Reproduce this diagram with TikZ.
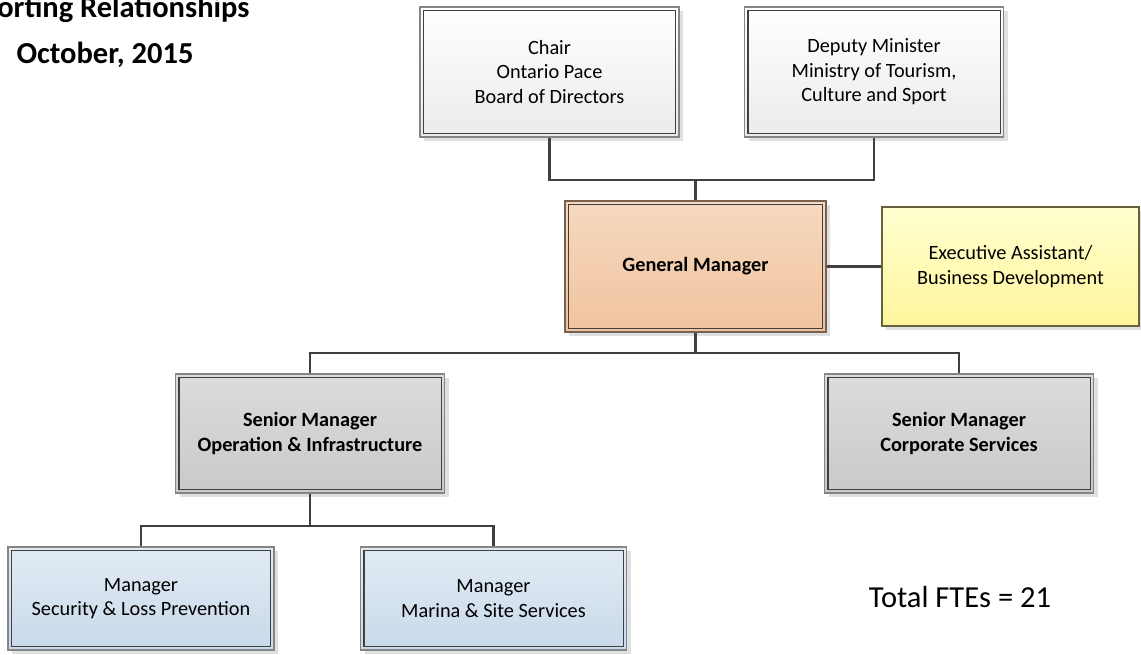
\documentclass[tikz,border=0pt]{standalone}
\usepackage{fontspec}
\setmainfont{Carlito}
\usetikzlibrary{shadows}

\definecolor{linegray}{HTML}{404040}
\definecolor{rimgray}{HTML}{858585}
\definecolor{boardtop}{HTML}{FFFFFF}
\definecolor{boardbot}{HTML}{EBEBEB}
\definecolor{gmtop}{HTML}{F6D9C0}
\definecolor{gmbot}{HTML}{F1C39E}
\definecolor{eatop}{HTML}{FFFFD0}
\definecolor{eabot}{HTML}{FFF59C}
\definecolor{srtop}{HTML}{DCDCDC}
\definecolor{srbot}{HTML}{C9C9C9}
\definecolor{mgtop}{HTML}{E2EBF4}
\definecolor{mgbot}{HTML}{C8D9EA}

\begin{document}
\begin{tikzpicture}[x=1pt,y=-1pt]

\tikzset{unit/.style = {rectangle, draw=rimgray, line width=1.2pt, align=center,
  font=\fontsize{20.3}{24.5}\selectfont,
  drop shadow={shadow xshift=4pt, shadow yshift=-4pt, fill=black!12, opacity=1}}}
\tikzset{boardbox/.style = {unit, top color=boardtop, bottom color=boardbot, minimum width=259pt, minimum height=130pt}}
\tikzset{gmbox/.style = {unit, top color=gmtop, bottom color=gmbot, draw=black!50!gmbot, minimum width=261pt, minimum height=131pt, font=\fontsize{20.3}{24.5}\selectfont\bfseries}}
\tikzset{eabox/.style = {unit, top color=eatop, bottom color=eabot, draw=black!60!eabot, minimum width=257pt, minimum height=119pt}}
\tikzset{seniorbox/.style = {unit, top color=srtop, bottom color=srbot, minimum width=269pt, minimum height=119pt, font=\fontsize{20.3}{24.5}\selectfont\bfseries}}
\tikzset{mgrbox/.style = {unit, top color=mgtop, bottom color=mgbot, minimum width=266pt, minimum height=103pt}}
\tikzset{rim/.style = {draw=linegray, line width=1.2pt}}
\tikzset{link/.style = {draw=linegray, line width=2.8pt}}

\useasboundingbox (0,0) rectangle (1141,654);

% title
\node[anchor=base east, font=\fontsize{30.5}{34}\selectfont\bfseries] (title) at (253,17) {Reporting Relationships};
\node[anchor=base, font=\fontsize{30.5}{34}\selectfont\bfseries] (date) at (105,63) {October, 2015};

% vertices
\node[boardbox] (chair) at (549.5,72) {Chair\\Ontario Pace\\Board of Directors};
\node[boardbox] (deputy) at (874,72) {Deputy Minister\\Ministry of Tourism,\\Culture and Sport};
\node[gmbox] (gm) at (695.5,266.5) {General Manager};
\node[eabox] (ea) at (1010.5,266.5) {Executive Assistant/\\Business Development};
\node[seniorbox] (ops) at (310,433.5) {Senior Manager\\Operation \& Infrastructure};
\node[seniorbox] (corp) at (959,433.5) {Senior Manager\\Corporate Services};
\node[mgrbox] (security) at (141,598.5) {Manager\\Security \& Loss Prevention};
\node[mgrbox] (marina) at (493.5,598.5) {Manager\\Marina \& Site Services};
\node[anchor=base, font=\fontsize{30.5}{34}\selectfont] (fte) at (960,607) {Total FTEs = 21};

% inner rims
\foreach \n in {chair,deputy,gm,ops,corp,security,marina}
  \draw[rim] ([shift={(4,4)}]\n.north west) rectangle ([shift={(-4,-4)}]\n.south east);

%edges
\coordinate (topbus) at (695.5,180);
\coordinate (midbus) at (695.5,353);
\coordinate (lowbus) at (310,526);

\draw[link] (chair.south) |- (topbus) -| (deputy.south);
\draw[link] (topbus) -- (gm.north);
\draw[link] (gm.east) -- (ea.west);
\draw[link] (gm.south) -- (midbus);
\draw[link] (ops.north) |- (midbus) -| (corp.north);
\draw[link] (ops.south) -- (lowbus);
\draw[link] (security.north) |- (lowbus) -| (marina.north);

\end{tikzpicture}
\end{document}
